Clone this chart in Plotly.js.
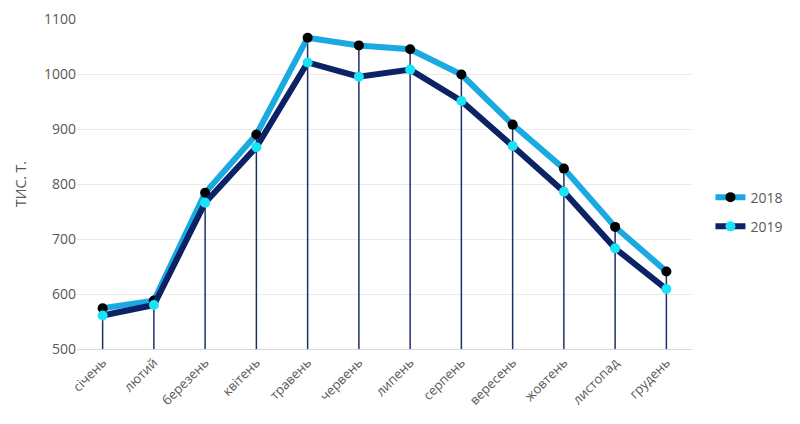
<!DOCTYPE html>
<html>
<head>
<meta charset="utf-8">
<script src="https://cdn.plot.ly/plotly-3.0.1.min.js"></script>
<style>
  body { margin: 0; background: #fff; }
  #chartBox { width: 800px; height: 424px; }
</style>
</head>
<body>
<div id="chartBox"></div>
<script>
// місяці та обсяги, тис. т
const months = ['сiчень', 'лютий', 'березень', 'квітень', 'травень', 'червень',
                'липень', 'серпень', 'вересень', 'жовтень', 'листопад', 'грудень'];
const values2018 = [574, 588, 784, 890, 1066, 1052, 1045, 999, 908, 828, 722, 641];
const values2019 = [561, 580, 766, 867, 1021, 995, 1008, 951, 869, 786, 683, 609];
const axisMin = 500;

// лінії падіння від верхньої точки до осі
const dropLines = values2018.map((v, i) => Math.max(v, values2019[i]) - axisMin);

var dropTrace = {
  x: months,
  y: values2018,
  type: 'scatter',
  mode: 'markers',
  marker: { size: 1, color: 'rgba(0,0,0,0)' },
  error_y: {
    type: 'data',
    symmetric: false,
    array: values2018.map(() => 0),
    arrayminus: dropLines,
    width: 0,
    thickness: 1.5,
    color: '#1F2F6B'
  },
  showlegend: false,
  hoverinfo: 'skip'
};
var trace1 = {
  x: months,
  y: values2018,
  name: '2018',
  legendgroup: 'a',
  type: 'scatter',
  mode: 'lines+markers',
  line: { color: '#1BA9E1', width: 6 },
  marker: { color: '#000000', size: 10 }
};
var trace2 = {
  x: months,
  y: values2019,
  name: '2019',
  legendgroup: 'b',
  type: 'scatter',
  mode: 'lines+markers',
  line: { color: '#0B2265', width: 6 },
  marker: { color: '#19E3F5', size: 10 }
};

var layout = {
  width: 800,
  height: 424,
  margin: { l: 77, r: 106, t: 19, b: 75 },
  paper_bgcolor: '#ffffff',
  plot_bgcolor: '#ffffff',
  font: { family: 'Open Sans, sans-serif', size: 14, color: '#595959' },
  xaxis: {
    type: 'category',
    range: [-0.5, 11.5],
    tickangle: -45,
    ticks: '',
    showgrid: false,
    showline: true,
    linecolor: '#D9D9D9',
    linewidth: 1,
    tickfont: { size: 13, color: '#595959' }
  },
  yaxis: {
    range: [500, 1100],
    dtick: 100,
    showgrid: true,
    gridcolor: '#EBEBEB',
    zeroline: false,
    showline: false,
    ticks: '',
    tickfont: { size: 14, color: '#595959' },
    title: { text: 'ТИС. Т.', font: { size: 14, color: '#595959' }, standoff: 14 }
  },
  legend: {
    x: 1.03,
    y: 0.415,
    xanchor: 'left',
    yanchor: 'middle',
    font: { size: 14, color: '#595959' },
    itemwidth: 30,
    tracegroupgap: 8
  },
  showlegend: true
};

Plotly.newPlot('chartBox', [dropTrace, trace1, trace2], layout, { displayModeBar: false, staticPlot: true });
</script>
</body>
</html>
